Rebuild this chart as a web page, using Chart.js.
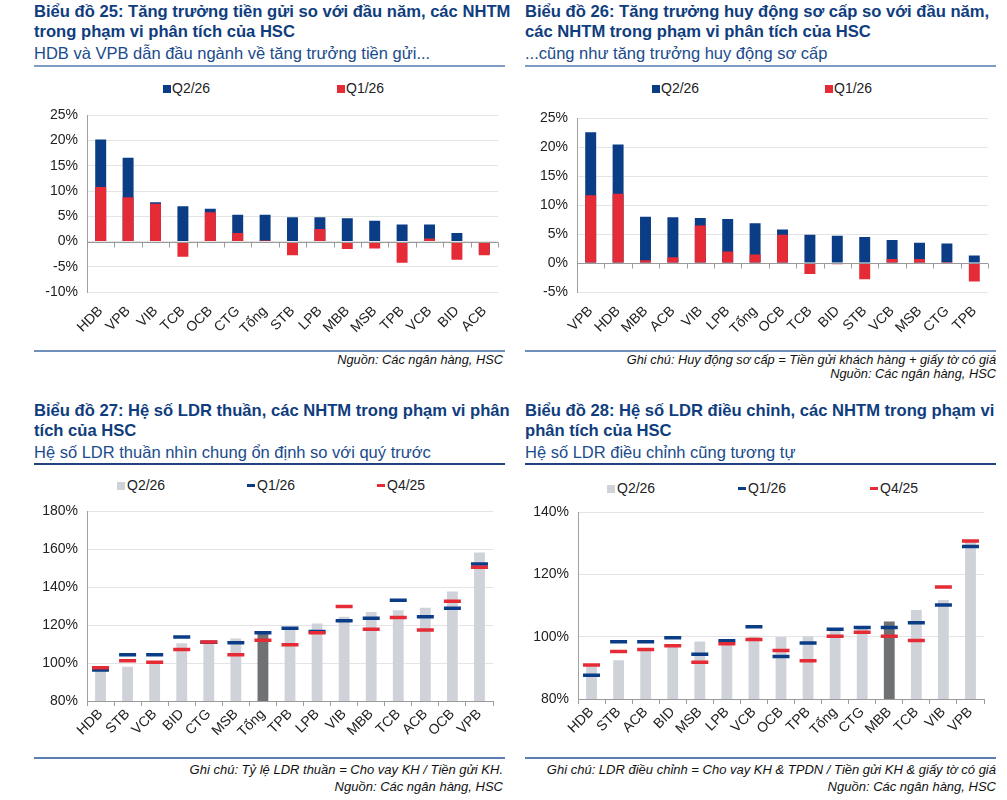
<!DOCTYPE html>
<html>
<head>
<meta charset="utf-8">
<script src="https://cdn.jsdelivr.net/npm/chart.js@4.4.1/dist/chart.umd.min.js"></script>
<style>
  html, body { margin:0; padding:0; background:#fff; }
  body { width:1007px; height:800px; position:relative; overflow:hidden; font-family:"Liberation Sans", Arial, sans-serif; }
  .abs { position:absolute; }
  .title { font-weight:bold; font-size:16.6px; line-height:20px; color:#0f3d7e; white-space:nowrap; }
  .sub { font-size:16.5px; line-height:20px; color:#1a4b8c; white-space:nowrap; }
  .rule { height:2px; }
  .note { font-style:italic; font-size:12.8px; line-height:14px; color:#111; text-align:right; white-space:nowrap; }
  .note2 { font-family:"Liberation Sans Narrow","Arial Narrow","Liberation Sans",sans-serif; font-stretch:condensed; font-style:italic; font-size:13px; line-height:17px; color:#111; text-align:right; white-space:nowrap; }
  .leg { font-size:14px; color:#222; white-space:nowrap; line-height:16px; }
  .box { position:absolute; width:8px; height:8px; }
  .dash { position:absolute; width:8px; height:3px; }
  .cw { position:absolute; }
</style>
</head>
<body>
<!-- Chart 25 header -->
<div class="abs title" style="left:34px; top:2px;">Biểu đồ 25: Tăng trưởng tiền gửi so với đầu năm, các NHTM<br>trong phạm vi phân tích của HSC</div>
<div class="abs sub" style="left:34px; top:43px;">HDB và VPB dẫn đầu ngành về tăng trưởng tiền gửi...</div>
<div class="abs rule" style="left:34px; top:65px; width:471px; background:#7f9cc3;"></div>
<!-- Chart 26 header -->
<div class="abs title" style="left:525px; top:2px;">Biểu đồ 26: Tăng trưởng huy động sơ cấp so với đầu năm,<br>các NHTM trong phạm vi phân tích của HSC</div>
<div class="abs sub" style="left:525px; top:43px;">...cũng như tăng trưởng huy động sơ cấp</div>
<div class="abs rule" style="left:525px; top:65px; width:471px; background:#7f9cc3;"></div>

<!-- legends top -->
<div class="abs leg" style="left:0; top:80px;">
  <div class="box" style="left:163px; top:5px; background:#0b3d86;"></div><div class="abs" style="left:172px; top:0;">Q2/26</div>
  <div class="box" style="left:337px; top:5px; background:#e52b35;"></div><div class="abs" style="left:346px; top:0;">Q1/26</div>
  <div class="box" style="left:652px; top:5px; background:#0b3d86;"></div><div class="abs" style="left:661px; top:0;">Q2/26</div>
  <div class="box" style="left:825px; top:5px; background:#e52b35;"></div><div class="abs" style="left:834px; top:0;">Q1/26</div>
</div>

<div class="cw" style="left:34px; top:98px; width:471px; height:236px;"><canvas id="c25"></canvas></div>
<div class="cw" style="left:525px; top:101px; width:471px; height:233px;"><canvas id="c26"></canvas></div>

<!-- top footers -->
<div class="abs rule" style="left:34px; top:350px; width:471px; background:#6f8fbd;"></div>
<div class="abs rule" style="left:525px; top:350px; width:471px; background:#6f8fbd;"></div>
<div class="abs note" style="right:504px; top:353px;">Nguồn: Các ngân hàng, HSC</div>
<div class="abs note" style="right:11px; top:353px;">Ghi chú: Huy động sơ cấp = Tiền gửi khách hàng + giấy tờ có giá<br>Nguồn: Các ngân hàng, HSC</div>

<!-- Chart 27 header -->
<div class="abs title" style="left:34px; top:401px;">Biểu đồ 27: Hệ số LDR thuần, các NHTM trong phạm vi phân<br>tích của HSC</div>
<div class="abs sub" style="left:34px; top:442px;">Hệ số LDR thuần nhìn chung ổn định so với quý trước</div>
<div class="abs rule" style="left:34px; top:463px; width:471px; background:#22427e; height:1.5px;"></div>
<!-- Chart 28 header -->
<div class="abs title" style="left:525px; top:401px;">Biểu đồ 28: Hệ số LDR điều chỉnh, các NHTM trong phạm vi<br>phân tích của HSC</div>
<div class="abs sub" style="left:525px; top:442px;">Hệ số LDR điều chỉnh cũng tương tự</div>
<div class="abs rule" style="left:525px; top:463px; width:471px; background:#22427e; height:1.5px;"></div>

<!-- legends bottom -->
<div class="abs leg" style="left:0; top:477px;">
  <div class="box" style="left:117px; top:5px; background:#cfd3d9;"></div><div class="abs" style="left:127px; top:0;">Q2/26</div>
  <div class="dash" style="left:247px; top:7px; background:#0b3d86;"></div><div class="abs" style="left:257px; top:0;">Q1/26</div>
  <div class="dash" style="left:377px; top:7px; background:#e52b35;"></div><div class="abs" style="left:387px; top:0;">Q4/25</div>
</div>
<div class="abs leg" style="left:0; top:480px;">
  <div class="box" style="left:607px; top:5px; background:#cfd3d9;"></div><div class="abs" style="left:617px; top:0;">Q2/26</div>
  <div class="dash" style="left:738px; top:7px; background:#0b3d86;"></div><div class="abs" style="left:748px; top:0;">Q1/26</div>
  <div class="dash" style="left:870px; top:7px; background:#e52b35;"></div><div class="abs" style="left:880px; top:0;">Q4/25</div>
</div>

<div class="cw" style="left:34px; top:494px; width:471px; height:249px;"><canvas id="c27"></canvas></div>
<div class="cw" style="left:525px; top:495px; width:471px; height:246px;"><canvas id="c28"></canvas></div>

<!-- bottom footers -->
<div class="abs rule" style="left:34px; top:757px; width:471px; background:#5b7fb3;"></div>
<div class="abs rule" style="left:525px; top:757px; width:471px; background:#5b7fb3;"></div>
<div class="abs note2" style="right:504px; top:761px;">Ghi chú: Tỷ lệ LDR thuần = Cho vay KH / Tiền gửi KH.<br>Nguồn: Các ngân hàng, HSC</div>
<div class="abs note2" style="right:11px; top:761px;">Ghi chú: LDR điều chỉnh = Cho vay KH &amp; TPDN / Tiền gửi KH &amp; giấy tờ có giá<br>Nguồn: Các ngân hàng, HSC</div>

<script>
// ---- Data ----
const cats25 = ['HDB','VPB','VIB','TCB','OCB','CTG','Tổng','STB','LPB','MBB','MSB','TPB','VCB','BID','ACB'];
const q2_25  = [20.2,16.6,7.8,7.0,6.5,5.3,5.3,4.8,4.8,4.6,4.1,3.4,3.4,1.7,-2.4];
const q1_25  = [10.8,8.8,7.5,-3.0,5.8,1.7,0.2,-2.7,2.5,-1.5,-1.4,-4.2,0.6,-3.6,-2.7];

const cats26 = ['VPB','HDB','MBB','ACB','VIB','LPB','Tổng','OCB','TCB','BID','STB','VCB','MSB','CTG','TPB'];
const q2_26  = [22.6,20.5,8.0,7.9,7.8,7.6,6.9,5.8,4.9,4.7,4.5,4.0,3.5,3.4,1.3];
const q1_26  = [11.7,12.0,0.5,1.0,6.5,2.0,1.5,4.9,-1.9,-0.2,-2.8,0.7,0.7,0.2,-3.2];

const cats27 = ['HDB','STB','VCB','BID','CTG','MSB','Tổng','TPB','LPB','VIB','MBB','TCB','ACB','OCB','VPB'];
const q2_27  = [96.0,98.0,100.6,110.4,111.0,113.0,115.5,118.0,120.9,124.5,127.0,127.9,129.2,137.7,158.3];
const q1_27  = [96.3,104.4,104.4,113.8,111.0,110.7,116.0,118.4,116.7,122.3,123.6,133.1,124.5,128.9,152.3];
const q4_27  = [97.5,101.2,100.4,107.2,111.1,104.4,112.1,109.7,116.0,129.9,117.9,124.0,117.4,132.6,150.5];
const dark27 = 'Tổng';

const cats28 = ['HDB','STB','ACB','BID','MSB','LPB','VCB','OCB','TPB','Tổng','CTG','MBB','TCB','VIB','VPB'];
const q2_28  = [90.5,92.5,95.6,97.6,98.5,98.0,99.9,99.9,100.2,102.0,102.6,104.9,108.6,111.8,130.5];
const q1_28  = [87.6,98.4,98.4,99.7,94.4,98.7,103.2,93.7,98.0,102.4,103.0,103.0,104.5,110.2,129.0];
const q4_28  = [90.9,95.3,95.9,97.1,91.8,97.8,99.1,95.6,92.3,100.2,101.5,100.2,98.8,116.0,130.8];
const dark28 = 'MBB';

const yTicks25 = {min:-10, max:25, step:5};
const yTicks26 = {min:-5, max:25, step:5};
const yTicks27 = {min:80, max:180, step:20};
const yTicks28 = {min:80, max:140, step:20};

// ---- Styles ----
const NAVY = '#0b3d86', RED = '#e52b35', LGRAY = '#cfd3d9', DGRAY = '#6f7175';
const FONT = "'Liberation Sans', Arial, sans-serif";
const TICK_SIZE = 14;
Chart.defaults.font.family = FONT;
Chart.defaults.color = '#222';
Chart.defaults.animation = false;

const zeroAxis = {
  id: 'zeroAxis',
  afterDatasetsDraw(chart) {
    const x = chart.scales.x, y = chart.scales.y, ctx = chart.ctx;
    const y0 = Math.round(y.getPixelForValue(0)) + 0.5;
    ctx.save();
    ctx.strokeStyle = '#9a9a9a';
    ctx.lineWidth = 1;
    ctx.beginPath();
    ctx.moveTo(chart.chartArea.left, y0);
    ctx.lineTo(chart.chartArea.right, y0);
    const n = chart.data.labels.length;
    for (let i = 0; i <= n; i++) {
      const px = Math.round(x.getPixelForValue(i - 0.5)) + 0.5;
      ctx.moveTo(px, y0);
      ctx.lineTo(px, y0 + 5);
    }
    ctx.stroke();
    ctx.restore();
  }
};

function pct(v) { return v + '%'; }

function growthChart(id, cats, q2, q1, yt, yW, pr) {
  return new Chart(document.getElementById(id), {
    type: 'bar',
    data: {
      labels: cats,
      datasets: [
        { label:'Q2/26', data:q2, backgroundColor:NAVY, grouped:false, order:2, barPercentage:0.8, categoryPercentage:0.5 },
        { label:'Q1/26', data:q1, backgroundColor:RED, grouped:false, order:1, barPercentage:0.8, categoryPercentage:0.5 }
      ]
    },
    options: {
      responsive:true, maintainAspectRatio:false,
      layout:{ padding:{ top:10, right:pr, left:0, bottom:0 } },
      plugins:{ legend:{display:false}, tooltip:{enabled:false} },
      scales:{
        x:{
          grid:{ display:false },
          border:{ display:false },
          ticks:{ font:{size:TICK_SIZE}, color:'#222', maxRotation:45, minRotation:45, padding:3, autoSkip:false },
          afterFit(s){ s.height = 42; }
        },
        y:{
          min:yt.min, max:yt.max,
          grid:{ color:'#e4e4e4', drawTicks:false },
          border:{ display:true, color:'#a0a0a0' },
          ticks:{ stepSize:yt.step, font:{size:TICK_SIZE}, color:'#222', padding:9, callback:pct },
          afterFit(s){ s.width = yW; }
        }
      }
    },
    plugins:[zeroAxis]
  });
}

function ldrChart(id, cats, q2, q1, q4, dark, yt, yW, pr) {
  const colors = cats.map(c => c === dark ? DGRAY : LGRAY);
  const dashDs = (label, data, color, order) => ({
    type:'line', label, data, showLine:false, order,
    pointStyle:'line', pointRadius:8.5, pointHoverRadius:8.5,
    pointBorderWidth:3.5, pointBorderColor:color, pointBackgroundColor:color,
    borderColor:color, backgroundColor:color
  });
  return new Chart(document.getElementById(id), {
    type: 'bar',
    data: {
      labels: cats,
      datasets: [
        { label:'Q2/26', data:q2, backgroundColor:colors, order:3, barPercentage:0.8, categoryPercentage:0.5 },
        dashDs('Q1/26', q1, NAVY, 2),
        dashDs('Q4/25', q4, RED, 1)
      ]
    },
    options: {
      responsive:true, maintainAspectRatio:false,
      layout:{ padding:{ top:10, right:pr, left:0, bottom:0 } },
      plugins:{ legend:{display:false}, tooltip:{enabled:false} },
      scales:{
        x:{
          offset:true,
          grid:{ display:true, drawOnChartArea:false, offset:true, tickLength:5, color:'#9a9a9a' },
          border:{ display:true, color:'#9a9a9a' },
          ticks:{ font:{size:TICK_SIZE}, color:'#222', maxRotation:45, minRotation:45, padding:0, autoSkip:false },
          afterFit(s){ s.height = 42; }
        },
        y:{
          min:yt.min, max:yt.max,
          grid:{ color:'#e4e4e4', drawTicks:false },
          border:{ display:true, color:'#a0a0a0' },
          ticks:{ stepSize:yt.step, font:{size:TICK_SIZE}, color:'#222', padding:9, callback:pct },
          afterFit(s){ s.width = yW; }
        }
      }
    }
  });
}

growthChart('c25', cats25, q2_25, q1_25, yTicks25, 53, 7);
growthChart('c26', cats26, q2_26, q1_26, yTicks26, 52, 8);
ldrChart('c27', cats27, q2_27, q1_27, q4_27, dark27, yTicks27, 53, 10);
ldrChart('c28', cats28, q2_28, q1_28, q4_28, dark28, yTicks28, 53, 10);
</script>
</body>
</html>
